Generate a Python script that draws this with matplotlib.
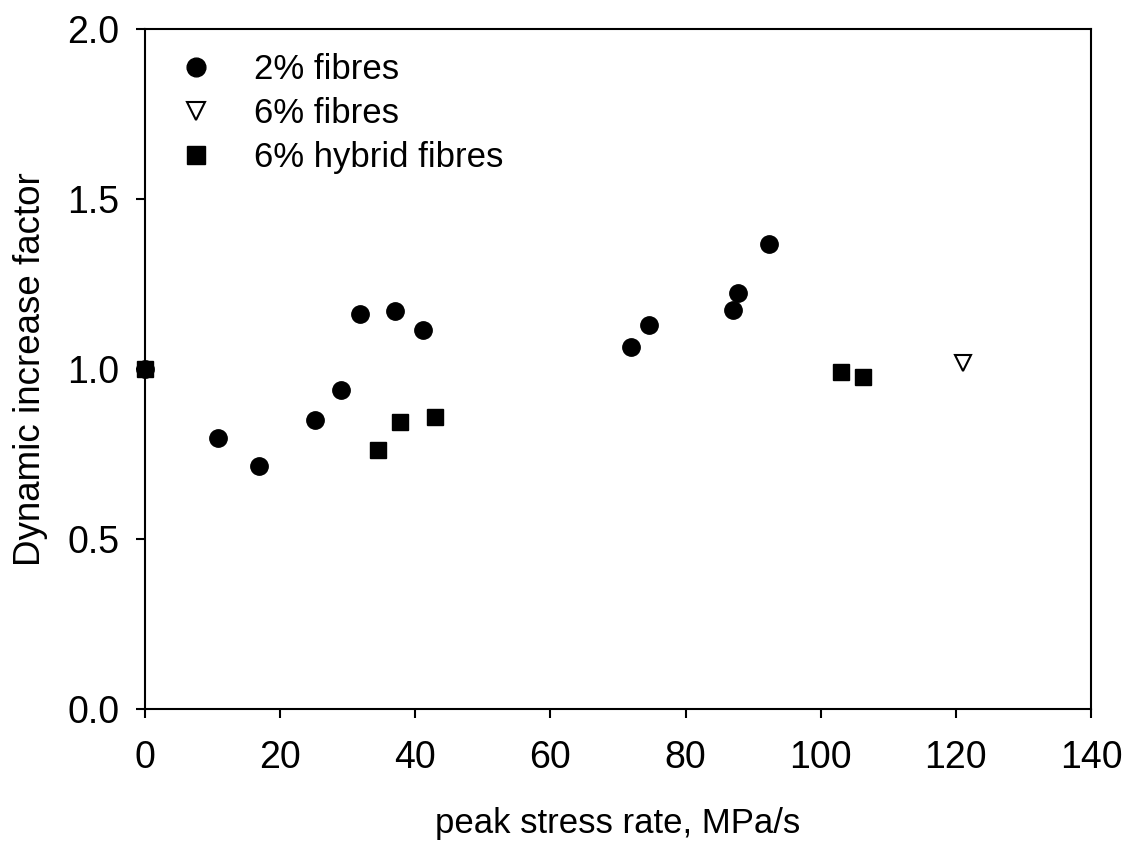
import numpy as np
import matplotlib.pyplot as plt

plt.rcParams['font.family'] = ['Liberation Sans', 'DejaVu Sans']

# data
x_2pct = [0.0, 10.8, 16.9, 25.2, 29.0, 31.8, 37.0, 41.2, 71.9, 74.6, 87.0, 87.7, 92.4]
y_2pct = [1.0, 0.797, 0.715, 0.85, 0.938, 1.162, 1.171, 1.115, 1.065, 1.129, 1.175, 1.223, 1.367]

x_6pct = [121.0]
y_6pct = [1.017]

x_hyb = [0.0, 34.5, 37.7, 42.9, 103.0, 106.2]
y_hyb = [1.0, 0.762, 0.844, 0.859, 0.992, 0.977]

fig = plt.figure(figsize=(11.25, 8.42), dpi=100)
ax = fig.add_axes([145/1125, 1 - 709/842, 946/1125, 680/842])

ax.plot(x_2pct, y_2pct, 'o', color='black', ms=12.5, label='2% fibres', clip_on=False)
ax.plot(x_6pct, y_6pct, 'v', mfc='white', mec='black', mew=1.5, ms=12, label='6% fibres', clip_on=False)
ax.plot(x_hyb, y_hyb, 's', color='black', ms=11.5, label='6% hybrid fibres', clip_on=False)

ax.set_xlim(0, 140)
ax.set_ylim(0, 2.0)
ax.set_xticks(np.arange(0, 141, 20))
ax.set_yticks(np.arange(0, 2.01, 0.5))
ax.yaxis.set_major_formatter(plt.FormatStrFormatter('%.1f'))
ax.tick_params(direction='out', length=6.5, width=1.5, labelsize=27)
ax.tick_params(axis='y', pad=12)
ax.tick_params(axis='x', pad=16)
for s in ax.spines.values():
    s.set_linewidth(1.5)

ax.set_xlabel('peak stress rate, MPa/s', fontsize=25, labelpad=22)
ax.set_ylabel('Dynamic increase factor', fontsize=26.5, labelpad=14)

ax.legend(loc='upper left', frameon=False, fontsize=25, handlelength=1.0,
          handletextpad=1.17, borderpad=0, borderaxespad=0, labelspacing=0.31,
          markerscale=1.08, bbox_to_anchor=(0.0355, 0.964))

fig.savefig('out.png', dpi=100)
